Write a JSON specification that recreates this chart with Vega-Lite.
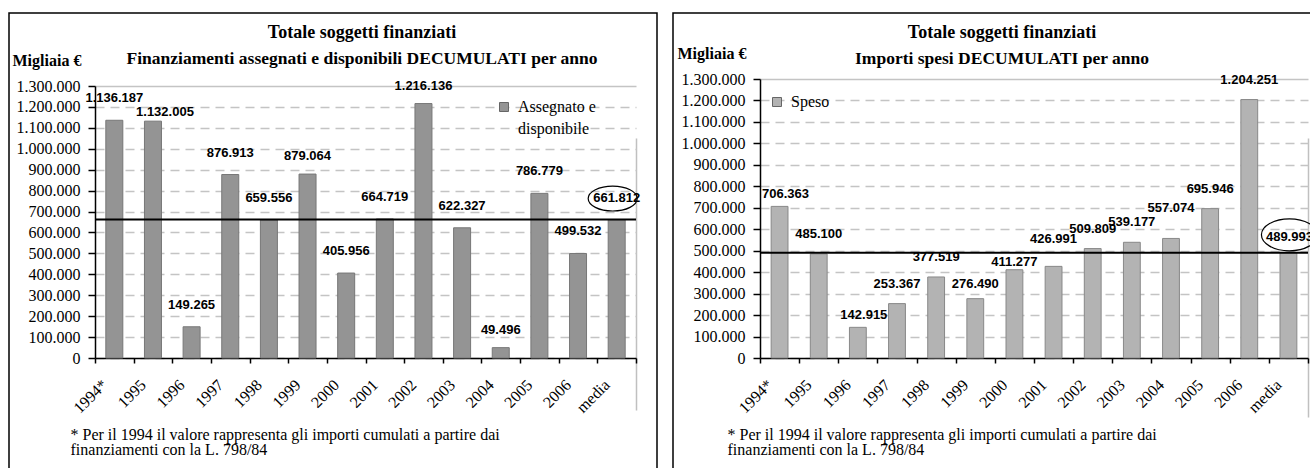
{
  "$schema": "https://vega.github.io/schema/vega-lite/v6.json",
  "padding": {"left": 2, "top": 12, "right": 0, "bottom": 0},
  "spacing": 8,
  "resolve": {"scale": {"color": "independent"}, "legend": {"color": "independent"}},
  "config": {
    "font": "Liberation Serif",
    "locale": {"number": {"decimal": ",", "thousands": ".", "grouping": [3], "currency": ["€", ""]}},
    "view": {"stroke": "black", "strokeWidth": 1.5},
    "style": {"guide-label": {"lineHeight": 22}},
    "axis": {"labelColor": "black", "titleColor": "black", "domainColor": "black", "tickColor": "black", "labelFont": "Liberation Serif", "titleFont": "Liberation Serif"},
    "title": {"font": "Liberation Serif", "fontSize": 18, "fontWeight": "bold", "color": "black", "subtitleFont": "Liberation Serif", "subtitleFontSize": 17.5, "subtitleFontWeight": "bold", "subtitleColor": "black", "subtitlePadding": 8, "frame": "group", "anchor": "middle", "offset": -54},
    "legend": {"orient": "none", "title": null, "labelFont": "Liberation Serif", "labelFontSize": 16, "labelColor": "black", "symbolType": "square", "symbolSize": 81, "symbolStrokeColor": "#666666", "symbolStrokeWidth": 1, "padding": 0, "labelOffset": 6}
  },
  "datasets": {
    "assegnato": [
      {"anno": "1994*", "valore": 1136187, "serie": "Assegnato e disponibile"},
      {"anno": "1995", "valore": 1132005, "serie": "Assegnato e disponibile"},
      {"anno": "1996", "valore": 149265, "serie": "Assegnato e disponibile"},
      {"anno": "1997", "valore": 876913, "serie": "Assegnato e disponibile"},
      {"anno": "1998", "valore": 659556, "serie": "Assegnato e disponibile"},
      {"anno": "1999", "valore": 879064, "serie": "Assegnato e disponibile"},
      {"anno": "2000", "valore": 405956, "serie": "Assegnato e disponibile"},
      {"anno": "2001", "valore": 664719, "serie": "Assegnato e disponibile"},
      {"anno": "2002", "valore": 1216136, "serie": "Assegnato e disponibile"},
      {"anno": "2003", "valore": 622327, "serie": "Assegnato e disponibile"},
      {"anno": "2004", "valore": 49496, "serie": "Assegnato e disponibile"},
      {"anno": "2005", "valore": 786779, "serie": "Assegnato e disponibile"},
      {"anno": "2006", "valore": 499532, "serie": "Assegnato e disponibile"},
      {"anno": "media", "valore": 661812, "serie": "Assegnato e disponibile"}
    ],
    "speso": [
      {"anno": "1994*", "valore": 706363, "serie": "Speso"},
      {"anno": "1995", "valore": 485100, "serie": "Speso"},
      {"anno": "1996", "valore": 142915, "serie": "Speso"},
      {"anno": "1997", "valore": 253367, "serie": "Speso"},
      {"anno": "1998", "valore": 377519, "serie": "Speso"},
      {"anno": "1999", "valore": 276490, "serie": "Speso"},
      {"anno": "2000", "valore": 411277, "serie": "Speso"},
      {"anno": "2001", "valore": 426991, "serie": "Speso"},
      {"anno": "2002", "valore": 509809, "serie": "Speso"},
      {"anno": "2003", "valore": 539177, "serie": "Speso"},
      {"anno": "2004", "valore": 557074, "serie": "Speso"},
      {"anno": "2005", "valore": 695946, "serie": "Speso"},
      {"anno": "2006", "valore": 1204251, "serie": "Speso"},
      {"anno": "media", "valore": 489993, "serie": "Speso"}
    ]
  },
  "hconcat": [
    {
      "width": 648,
      "height": 470,
      "title": {"text": "Totale soggetti finanziati", "subtitle": "Finanziamenti assegnati e disponibili DECUMULATI per anno", "dx": 29},
      "data": {"name": "assegnato"},
      "encoding": {
        "x": {
          "field": "anno", "type": "nominal",
          "scale": {"domain": ["1994*", "1995", "1996", "1997", "1998", "1999", "2000", "2001", "2002", "2003", "2004", "2005", "2006", "media"], "range": [86, 627], "paddingInner": 0, "paddingOuter": 0},
          "axis": {
            "title": ["* Per il 1994 il valore rappresenta gli importi cumulati a partire dai", "finanziamenti con la L. 798/84"],
            "titleFontWeight": "normal", "titleFontSize": 16, "titleAlign": "left", "titleAngle": 0, "titleX": 61, "titleY": 81, "titleBaseline": "alphabetic", "titleLineHeight": 15,
            "offset": -125, "tickBand": "extent", "tickSize": 5, "tickWidth": 1.5, "domainWidth": 1.5,
            "labelAngle": -45, "labelAlign": "right", "labelBaseline": "middle", "labelFontSize": 16, "labelPadding": 19, "labelOffset": -10, "labelOverlap": false,
            "grid": true, "gridColor": "#c0c0c0", "gridWidth": 1.5,
            "gridOpacity": {"condition": {"test": "datum.value === 'media'", "value": 1}, "value": 0}
          }
        },
        "y": {
          "field": "valore", "type": "quantitative",
          "scale": {"domain": [0, 1300000], "range": [345, 73], "nice": false},
          "axis": {
            "title": "Migliaia €", "titleAngle": 0, "titleAlign": "left", "titleBaseline": "alphabetic", "titleX": -83, "titleY": 52, "titleFontWeight": "bold", "titleFontSize": 16,
            "offset": -86,
            "values": [0, 100000, 200000, 300000, 400000, 500000, 600000, 700000, 800000, 900000, 1000000, 1100000, 1200000, 1300000],
            "format": ",d", "labelFontSize": 16, "labelPadding": 8, "tickSize": 7, "tickWidth": 1.5, "domainWidth": 1.5,
            "grid": true, "gridColor": "#c4c4c4", "gridWidth": 1.5,
            "gridDash": {"condition": {"test": "datum.value === 1300000", "value": []}, "value": [9, 6]}
          }
        }
      },
      "layer": [
        {
          "mark": {"type": "bar", "width": {"band": 0.44}, "stroke": "#777777", "strokeWidth": 1},
          "encoding": {
            "color": {"field": "serie", "type": "nominal", "scale": {"range": ["#949494"]},
              "legend": {"legendX": 487, "legendY": 86, "labelExpr": "['Assegnato e', 'disponibile']"}}
          }
        },
        {
          "transform": [{"filter": "datum.anno === 'media'"}],
          "mark": {"type": "rule", "color": "black", "strokeWidth": 2},
          "encoding": {
            "x": {"datum": "1994*", "type": "nominal", "bandPosition": 0},
            "x2": {"datum": "media", "bandPosition": 1},
            "y": {"field": "valore", "type": "quantitative"}
          }
        },
        {
          "transform": [{"filter": "indexof(['1995', '1999', '2002', '2004'], datum.anno) < 0"}],
          "mark": {"type": "text", "font": "Liberation Sans", "fontWeight": "bold", "fontSize": 13, "color": "black", "dy": -22},
          "encoding": {"text": {"field": "valore", "type": "quantitative", "format": ",d"}}
        },
        {
          "transform": [{"filter": "indexof(['1999', '2002', '2004'], datum.anno) >= 0"}],
          "mark": {"type": "text", "font": "Liberation Sans", "fontWeight": "bold", "fontSize": 13, "color": "black", "dy": -18},
          "encoding": {"text": {"field": "valore", "type": "quantitative", "format": ",d"}}
        },
        {
          "transform": [{"filter": "datum.anno === '1995'"}],
          "mark": {"type": "text", "font": "Liberation Sans", "fontWeight": "bold", "fontSize": 13, "color": "black", "dy": -9, "dx": 12},
          "encoding": {"text": {"field": "valore", "type": "quantitative", "format": ",d"}}
        },
        {
          "transform": [{"filter": "datum.anno === 'media'"}],
          "mark": {"type": "point", "shape": "M-1,0A1,0.51 0 1,1 1,0A1,0.51 0 1,1 -1,0Z", "size": 2401, "filled": false, "stroke": "black", "strokeWidth": 1.2, "opacity": 1, "yOffset": -21, "xOffset": -4}
        }
      ]
    },
    {
      "width": 640,
      "height": 470,
      "title": {"text": "Totale soggetti finanziati", "subtitle": "Importi spesi DECUMULATI per anno", "dx": 9},
      "data": {"name": "speso"},
      "encoding": {
        "x": {
          "field": "anno", "type": "nominal",
          "scale": {"domain": ["1994*", "1995", "1996", "1997", "1998", "1999", "2000", "2001", "2002", "2003", "2004", "2005", "2006", "media"], "range": [87, 635], "paddingInner": 0, "paddingOuter": 0},
          "axis": {
            "title": ["* Per il 1994 il valore rappresenta gli importi cumulati a partire dai", "finanziamenti con la L. 798/84"],
            "titleFontWeight": "normal", "titleFontSize": 16, "titleAlign": "left", "titleAngle": 0, "titleX": 54, "titleY": 81, "titleBaseline": "alphabetic", "titleLineHeight": 15,
            "offset": -125, "tickBand": "extent", "tickSize": 5, "tickWidth": 1.5, "domainWidth": 1.5,
            "labelAngle": -45, "labelAlign": "right", "labelBaseline": "middle", "labelFontSize": 16, "labelPadding": 19, "labelOffset": -10, "labelOverlap": false,
            "grid": true, "gridColor": "#c0c0c0", "gridWidth": 1.5,
            "gridOpacity": {"condition": {"test": "datum.value === 'media'", "value": 1}, "value": 0}
          }
        },
        "y": {
          "field": "valore", "type": "quantitative",
          "scale": {"domain": [0, 1300000], "range": [345, 66], "nice": false},
          "axis": {
            "title": "Migliaia €", "titleAngle": 0, "titleAlign": "left", "titleBaseline": "alphabetic", "titleX": -83, "titleY": 45, "titleFontWeight": "bold", "titleFontSize": 16,
            "offset": -87,
            "values": [0, 100000, 200000, 300000, 400000, 500000, 600000, 700000, 800000, 900000, 1000000, 1100000, 1200000, 1300000],
            "format": ",d", "labelFontSize": 16, "labelPadding": 8, "tickSize": 7, "tickWidth": 1.5, "domainWidth": 1.5,
            "grid": true, "gridColor": "#c4c4c4", "gridWidth": 1.5,
            "gridDash": {"condition": {"test": "datum.value === 1300000", "value": []}, "value": [9, 6]}
          }
        }
      },
      "layer": [
        {
          "mark": {"type": "bar", "width": {"band": 0.43}, "stroke": "#888888", "strokeWidth": 1},
          "encoding": {
            "color": {"field": "serie", "type": "nominal", "scale": {"range": ["#b3b3b3"]},
              "legend": {"legendX": 96, "legendY": 81}}
          }
        },
        {
          "transform": [{"filter": "datum.anno === 'media'"}],
          "mark": {"type": "rule", "color": "black", "strokeWidth": 2},
          "encoding": {
            "x": {"datum": "1994*", "type": "nominal", "bandPosition": 0},
            "x2": {"datum": "media", "bandPosition": 1},
            "y": {"field": "valore", "type": "quantitative"}
          }
        },
        {
          "transform": [{"filter": "indexof(['1995', '1997', '1998', '2002', '2003', '2005', '2006'], datum.anno) >= 0"}],
          "mark": {"type": "text", "font": "Liberation Sans", "fontWeight": "bold", "fontSize": 13, "color": "black", "dy": -20},
          "encoding": {"text": {"field": "valore", "type": "quantitative", "format": ",d"}}
        },
        {
          "transform": [{"filter": "indexof(['1994*', '1996'], datum.anno) >= 0"}],
          "mark": {"type": "text", "font": "Liberation Sans", "fontWeight": "bold", "fontSize": 13, "color": "black", "dy": -12, "dx": 6},
          "encoding": {"text": {"field": "valore", "type": "quantitative", "format": ",d"}}
        },
        {
          "transform": [{"filter": "datum.anno === '1999'"}],
          "mark": {"type": "text", "font": "Liberation Sans", "fontWeight": "bold", "fontSize": 13, "color": "black", "dy": -15},
          "encoding": {"text": {"field": "valore", "type": "quantitative", "format": ",d"}}
        },
        {
          "transform": [{"filter": "datum.anno === '2000'"}],
          "mark": {"type": "text", "font": "Liberation Sans", "fontWeight": "bold", "fontSize": 13, "color": "black", "dy": -8},
          "encoding": {"text": {"field": "valore", "type": "quantitative", "format": ",d"}}
        },
        {
          "transform": [{"filter": "datum.anno === '2001'"}],
          "mark": {"type": "text", "font": "Liberation Sans", "fontWeight": "bold", "fontSize": 13, "color": "black", "dy": -27},
          "encoding": {"text": {"field": "valore", "type": "quantitative", "format": ",d"}}
        },
        {
          "transform": [{"filter": "datum.anno === '2004'"}],
          "mark": {"type": "text", "font": "Liberation Sans", "fontWeight": "bold", "fontSize": 13, "color": "black", "dy": -30},
          "encoding": {"text": {"field": "valore", "type": "quantitative", "format": ",d"}}
        },
        {
          "transform": [{"filter": "datum.anno === 'media'"}],
          "mark": {"type": "text", "font": "Liberation Sans", "fontWeight": "bold", "fontSize": 13, "color": "black", "dy": -16, "dx": 1},
          "encoding": {"text": {"field": "valore", "type": "quantitative", "format": ",d"}}
        },
        {
          "transform": [{"filter": "datum.anno === 'media'"}],
          "mark": {"type": "point", "shape": "M-1,0A1,0.57 0 1,1 1,0A1,0.57 0 1,1 -1,0Z", "size": 3136, "filled": false, "stroke": "black", "strokeWidth": 1.2, "opacity": 1, "yOffset": -18, "xOffset": 1}
        }
      ]
    }
  ]
}
